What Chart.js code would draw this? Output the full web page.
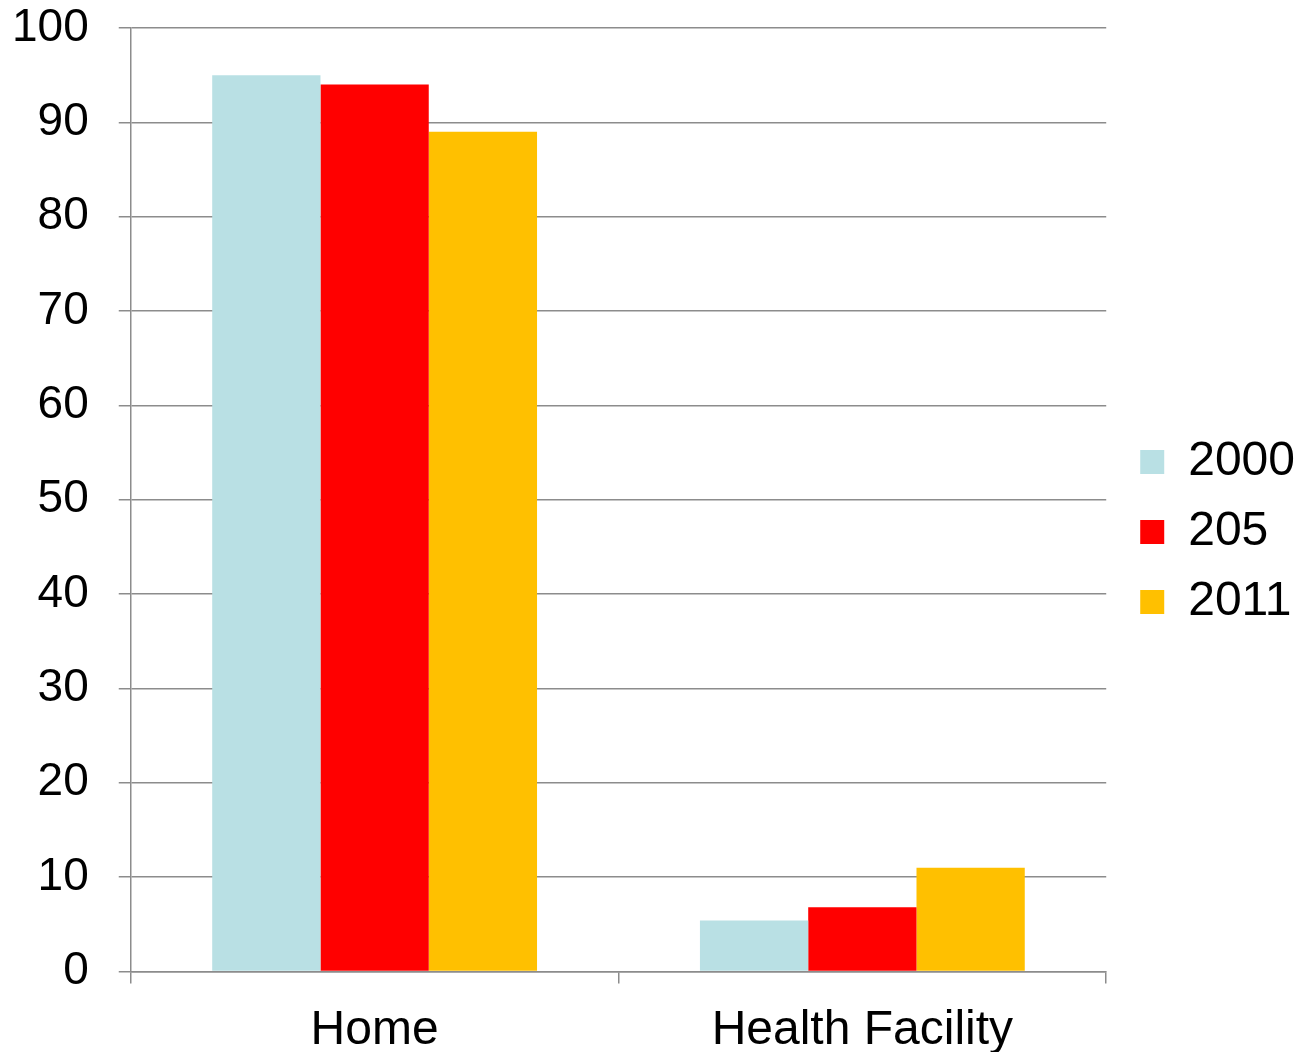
<!DOCTYPE html>
<html>
<head>
<meta charset="utf-8">
<script src="https://cdn.jsdelivr.net/npm/chart.js@4"></script>
<style>
  html, body { margin: 0; padding: 0; background: #fff; }
  #wrap { width: 1301px; height: 1052px; }
</style>
</head>
<body>
<div id="wrap"><canvas id="chart" width="1301" height="1052"></canvas></div>
<script>
// data
var categories = ['Home', 'Health Facility'];
var seriesNames = ['2000', '205', '2011'];
var values2000 = [95, 5.4];
var values205 = [94, 6.8];
var values2011 = [89, 11];
var yTicks = [0, 10, 20, 30, 40, 50, 60, 70, 80, 90, 100];

var colors = ['#B9E0E4', '#FF0000', '#FFC000'];
var gridGray = '#8C8C8C';
var fontFamily = '"Liberation Sans", Arial, sans-serif';

var ctx = document.getElementById('chart').getContext('2d');

var seriesValues = [values2000, values205, values2011];
var datasets = [];
for (var i = 0; i < seriesNames.length; i++) {
    datasets.push({
        label: seriesNames[i],
        data: seriesValues[i],
        backgroundColor: colors[i],
        borderWidth: 0,
        categoryPercentage: 0.666,
        barPercentage: 1.0
    });
}

// nudge the legend a bit to the right, away from the plot
var legendShift = {
    id: 'legendShift',
    afterLayout: function (chart) {
        if (chart.legend) {
            chart.legend.left += 12;
            chart.legend.right += 12;
        }
    }
};

var chart = new Chart(ctx, {
    type: 'bar',
    data: { labels: categories, datasets: datasets },
    plugins: [legendShift],
    options: {
        responsive: false,
        devicePixelRatio: 1,
        animation: false,
        layout: { padding: { left: -18, top: -15, right: 8, bottom: -27 } },
        plugins: {
            tooltip: { enabled: false },
            legend: {
                position: 'right',
                labels: {
                    color: '#000',
                    boxWidth: 24,
                    boxHeight: 24,
                    padding: 22,
                    font: { family: fontFamily, size: 48 }
                }
            }
        },
        scales: {
            x: {
                grid: {
                    drawOnChartArea: false,
                    drawTicks: true,
                    tickLength: 12,
                    color: gridGray,
                    lineWidth: 1.5
                },
                border: { color: gridGray, width: 1.5 },
                ticks: {
                    color: '#000',
                    padding: 19,
                    font: { family: fontFamily, size: 48 }
                }
            },
            y: {
                min: 0,
                max: 100,
                afterBuildTicks: function (axis) {
                    axis.ticks = yTicks.map(function (v) { return { value: v }; });
                },
                // keep the big label gap from pushing the plot down
                afterFit: function (axis) {
                    axis.paddingTop = 28;
                    axis.paddingBottom = 0;
                },
                grid: {
                    color: gridGray,
                    lineWidth: 1.5,
                    tickLength: 12
                },
                border: { color: gridGray, width: 1.5 },
                ticks: {
                    color: '#000',
                    padding: 30,
                    font: { family: fontFamily, size: 46 }
                }
            }
        }
    }
});
</script>
</body>
</html>
